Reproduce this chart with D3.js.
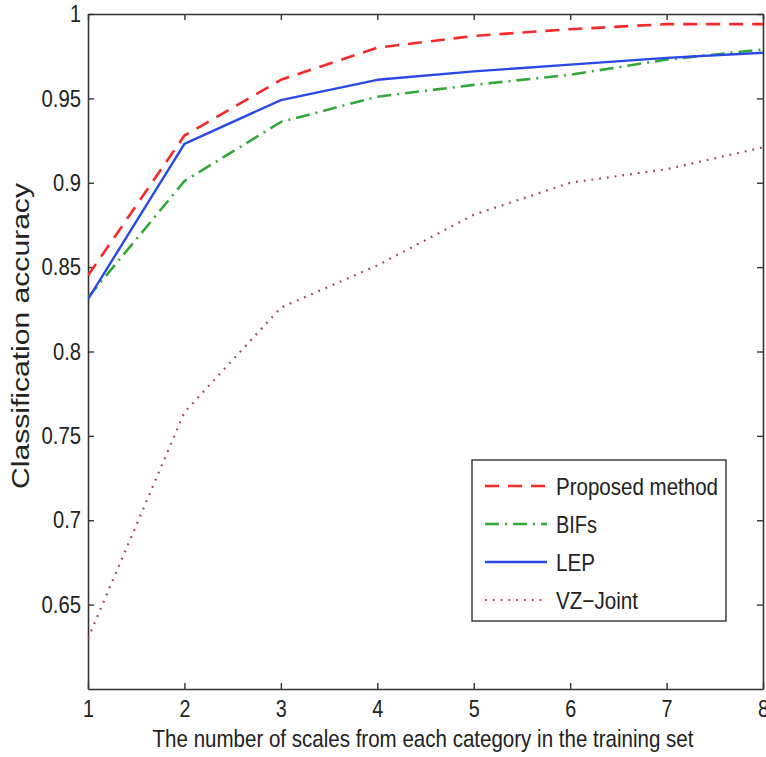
<!DOCTYPE html>
<html>
<head>
<meta charset="utf-8">
<script src="https://cdn.jsdelivr.net/npm/d3@7"></script>
<style>
  body { margin: 0; background: #fff; }
  svg { display: block; }
  text { font-family: "Liberation Sans", Arial, sans-serif; fill: #222; }
</style>
</head>
<body>
<svg id="chart" width="766" height="757"></svg>
<script>
// data
let scales = [1, 2, 3, 4, 5, 6, 7, 8];
let proposed = [0.845, 0.928, 0.961, 0.980, 0.987, 0.991, 0.994, 0.994];
let bifs     = [0.832, 0.901, 0.936, 0.951, 0.958, 0.964, 0.973, 0.979];
let lep      = [0.831, 0.923, 0.949, 0.961, 0.966, 0.970, 0.974, 0.977];
let vzJoint  = [0.630, 0.764, 0.826, 0.851, 0.881, 0.900, 0.908, 0.921];
let yTicks = [0.65, 0.7, 0.75, 0.8, 0.85, 0.9, 0.95, 1];
let yTickLabels = ['0.65', '0.7', '0.75', '0.8', '0.85', '0.9', '0.95', '1'];

let series = [
    { name: 'Proposed method', values: proposed, color: '#f42a2a', dash: '14,9', width: 2.6 },
    { name: 'BIFs', values: bifs, color: '#33a83a', dash: '14,6,2,6', width: 2.6 },
    { name: 'LEP', values: lep, color: '#2a48e6', dash: null, width: 2.4 },
    { name: 'VZ-Joint', values: vzJoint, color: '#9a4a4a', dash: '1.8,6', width: 2.2 }
];

let plotLeft = 88, plotRight = 763, plotTop = 14, plotBottom = 689;
let fontSize = '24px';
let svg = d3.select('#chart');

let x = d3.scaleLinear().domain([1, 8]).range([plotLeft, plotRight]);
let y = d3.scaleLinear().domain([0.6, 1]).range([plotBottom, plotTop]);

svg.append('clipPath').attr('id', 'plotclip')
    .append('rect')
    .attr('x', plotLeft).attr('y', plotTop - 2)
    .attr('width', plotRight - plotLeft + 2).attr('height', plotBottom - plotTop + 2);

// axes with inward ticks on all four sides (box)
let axisColor = '#333';
let tickLen = 6;

let gBottom = svg.append('g').attr('transform', `translate(0,${plotBottom})`)
    .call(d3.axisBottom(x).tickValues(scales).tickFormat(d3.format('d')).tickSizeInner(-tickLen).tickSizeOuter(0).tickPadding(11));
let gTop = svg.append('g').attr('transform', `translate(0,${plotTop})`)
    .call(d3.axisTop(x).tickValues(scales).tickFormat('').tickSizeInner(-tickLen).tickSizeOuter(0));
let gLeft = svg.append('g').attr('transform', `translate(${plotLeft},0)`)
    .call(d3.axisLeft(y).tickValues(yTicks).tickFormat((d, i) => yTickLabels[i]).tickSizeInner(-tickLen).tickSizeOuter(0).tickPadding(7));
let gRight = svg.append('g').attr('transform', `translate(${plotRight},0)`)
    .call(d3.axisRight(y).tickValues(yTicks).tickFormat('').tickSizeInner(-tickLen).tickSizeOuter(0));

[gBottom, gTop, gLeft, gRight].forEach(g => {
    g.select('.domain').attr('stroke', axisColor).attr('stroke-width', 1.6);
    g.selectAll('.tick line').attr('stroke', axisColor).attr('stroke-width', 1.4);
});

gBottom.selectAll('.tick text')
    .style('font-size', fontSize)
    .attr('fill', '#222')
    .attr('dy', '0.7em');
gLeft.selectAll('.tick text')
    .style('font-size', fontSize)
    .attr('fill', '#222');

// condense tick labels like the reference
gBottom.selectAll('.tick text').each(function () {
    let t = d3.select(this);
    t.attr('textLength', t.text().length * 11).attr('lengthAdjust', 'spacingAndGlyphs');
});
gLeft.selectAll('.tick text').each(function () {
    let t = d3.select(this);
    let s = t.text();
    t.attr('textLength', s === '1' ? 11 : (s.length - 1) * 11.5 + 5).attr('lengthAdjust', 'spacingAndGlyphs');
});

// lines
let line = d3.line()
    .x((d, i) => x(scales[i]))
    .y(d => y(d));

let plot = svg.append('g').attr('clip-path', 'url(#plotclip)');
plot.selectAll('path.series')
    .data(series)
    .enter()
    .append('path')
    .attr('class', 'series')
    .attr('d', d => line(d.values))
    .attr('fill', 'none')
    .attr('stroke', d => d.color)
    .attr('stroke-width', d => d.width)
    .attr('stroke-dasharray', d => d.dash)
    .attr('stroke-linejoin', 'round');

// legend
let legend = svg.append('g');
legend.append('rect')
    .attr('x', 472).attr('y', 460)
    .attr('width', 254).attr('height', 161)
    .attr('fill', '#fff')
    .attr('stroke', axisColor)
    .attr('stroke-width', 1.4);

let rows = legend.selectAll('g.row')
    .data(series)
    .enter()
    .append('g')
    .attr('class', 'row')
    .attr('transform', (d, i) => `translate(0,${486 + i * 38})`);

rows.append('line')
    .attr('x1', 485).attr('x2', 547)
    .attr('y1', 0).attr('y2', 0)
    .attr('stroke', d => d.color)
    .attr('stroke-width', d => d.width)
    .attr('stroke-dasharray', d => d.dash);

rows.append('text')
    .attr('x', 556)
    .attr('y', 0)
    .attr('dy', '0.36em')
    .style('font-size', fontSize)
    .attr('textLength', d => ({ 'Proposed method': 162, 'BIFs': 41, 'LEP': 39, 'VZ-Joint': 82 })[d.name])
    .attr('lengthAdjust', 'spacingAndGlyphs')
    .text(d => d.name.replace('-', '\u2212'));

// axis titles, squeezed horizontally with a scale so their boxes stay honest
function condensedTitle(transform, label, width) {
    let g = svg.append('g').attr('transform', transform);
    let t = g.append('text')
        .attr('text-anchor', 'middle')
        .style('font-size', fontSize)
        .text(label);
    let natural = t.node().getComputedTextLength();
    t.attr('transform', `scale(${width / natural},1)`);
}

condensedTitle('translate(423,747)', 'The number of scales from each category in the training set', 541);
condensedTitle('translate(29,336) rotate(-90)', 'Classification accuracy', 306);
</script>
</body>
</html>
